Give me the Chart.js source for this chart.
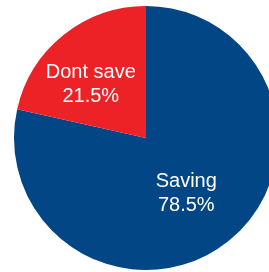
<!DOCTYPE html>
<html>
<head>
<meta charset="utf-8">
<script src="https://cdn.jsdelivr.net/npm/chart.js@4/dist/chart.umd.min.js"></script>
<style>
  html, body { margin: 0; padding: 0; background: #fff; overflow: hidden; }
  #wrap { width: 292px; height: 276px; position: relative; }
</style>
</head>
<body>
<div id="wrap"><canvas id="pieChart"></canvas></div>
<script>
// Data
const categories = ['Saving', 'Dont save'];
const shares = [78.5, 21.5];
const sliceColors = ['#034686', '#ec2227'];

// Draws the two-line labels inside each slice
const sliceLabels = {
    id: 'sliceLabels',
    afterDatasetsDraw(chart, args, opts) {
        const ctx = chart.ctx;
        const meta = chart.getDatasetMeta(0);
        ctx.save();
        ctx.fillStyle = '#ffffff';
        ctx.font = '20px "Liberation Sans", Arial, sans-serif';
        ctx.textAlign = 'center';
        ctx.textBaseline = 'alphabetic';
        meta.data.forEach((arc, i) => {
            const pos = arc.tooltipPosition();
            const off = opts.offsets[i];
            const x = pos.x + off[0];
            const y = pos.y + off[1];
            ctx.fillText(categories[i], x, y - 3);
            ctx.fillText(shares[i].toFixed(1) + '%', x, y + 21);
        });
        ctx.restore();
    }
};

const ctx = document.getElementById('pieChart').getContext('2d');
new Chart(ctx, {
    type: 'pie',
    data: {
        labels: categories,
        datasets: [{
            data: shares,
            backgroundColor: sliceColors,
            borderWidth: 0
        }]
    },
    options: {
        responsive: true,
        maintainAspectRatio: false,
        animation: false,
        layout: { padding: 6 },
        plugins: {
            legend: { display: false },
            tooltip: { enabled: false },
            sliceLabels: { offsets: [[-1, 0], [-14, -5]] }
        }
    },
    plugins: [sliceLabels]
});
</script>
</body>
</html>
